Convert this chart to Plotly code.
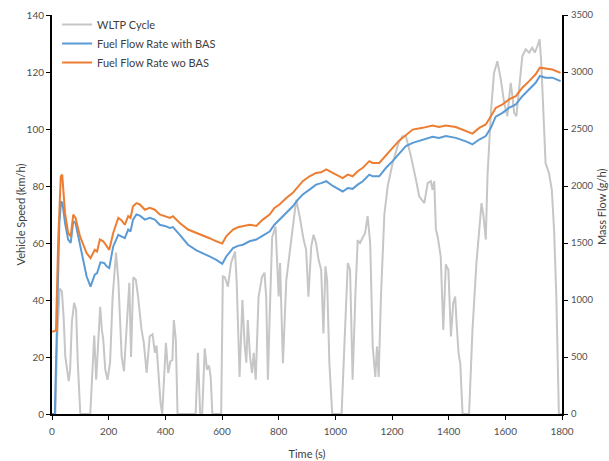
import plotly.graph_objects as go

# WLTP cycle (vehicle speed, km/h)
wltp_time = [0, 12, 18, 27, 35, 41, 47, 53, 59, 64, 70, 78, 85, 91, 100, 135, 149, 156, 164, 170,
             176, 181, 188, 196, 205, 214, 226, 234, 246, 254, 263, 273, 279, 287, 296, 304, 316, 324,
             334, 345, 355, 363, 369, 375, 383, 389, 398, 402, 410, 418, 425, 430, 437, 443, 507, 515,
             523, 530, 539, 547, 554, 560, 566, 597, 603, 610, 621, 632, 646, 652, 662, 672, 680, 686,
             691, 699, 706, 712, 719, 729, 741, 750, 756, 762, 769, 777, 789, 800, 805, 815, 827, 838,
             853, 862, 874, 888, 897, 905, 915, 923, 932, 941, 950, 958, 965, 971, 979, 989, 1022, 1034,
             1044, 1052, 1061, 1071, 1079, 1087, 1097, 1105, 1114, 1123, 1132, 1141, 1147, 1153, 1161,
             1173, 1185, 1202, 1223, 1237, 1249, 1267, 1285, 1296, 1314, 1326, 1337, 1343, 1349, 1355,
             1361, 1372, 1381, 1390, 1399, 1408, 1416, 1423, 1428, 1435, 1441, 1449, 1472, 1484, 1498,
             1508, 1516, 1523, 1531, 1537, 1549, 1560, 1572, 1584, 1596, 1607, 1619, 1625, 1631, 1639,
             1648, 1660, 1672, 1684, 1695, 1704, 1713, 1721, 1727, 1734, 1742, 1754, 1764, 1772, 1780,
             1789, 1800]
wltp_speed = [0, 0, 26, 44, 43, 34, 20, 15.6, 11.5, 15.6, 32, 39, 36.7, 18, 0, 0, 27.5, 12, 29.6, 37.6,
              29.6, 26, 15.6, 12, 18, 41, 56.6, 47, 20, 15, 29.6, 46, 20, 48, 47, 41, 29.6, 25,
              14.4, 27.3, 28, 21.5, 24, 15.6, 4, 0, 15.6, 25, 14.4, 18.5, 19, 33, 26, 0, 0, 21.5,
              0, 0, 23, 15.6, 17, 13, 0, 0, 48.3, 48, 44.7, 53, 57, 46, 13, 40, 24, 18,
              33, 20, 14.4, 21.5, 12, 41, 48, 49.6, 41, 12, 36.7, 62, 65.8, 41.2, 53, 17.8, 47, 55.3,
              67, 75.2, 69.4, 61.2, 57.6, 41.2, 58.8, 62.9, 60, 54, 50.6, 28.3, 51.8, 47, 17.8, 0, 0, 29.5,
              53, 50.6, 12, 42.4, 61, 60, 62.3, 63.5, 69.4, 60, 23.7, 13, 23.7, 13, 41.2,
              70, 80, 88, 95, 97.5, 97.5, 90.4, 82, 76.4, 74, 81, 81.7, 78.7, 81.7, 64.7,
              62.3, 55.3, 29.5, 52.5, 50.6, 27.2, 38.9, 41.2, 31.9, 21.3, 17.8, 0, 0, 29.5, 53,
              63.5, 74, 69.4, 61.2, 83.4, 105.7, 119.7, 123.8, 117.4, 109.2, 104.5, 116.2, 111.5, 105.7, 104.5,
              113.9, 125.6, 128, 126.8, 128.5, 126.8, 129, 131.5, 123, 105.7, 88, 84.6, 78.7, 64.7, 41.2,
              0, 0]

# Fuel flow rate without BAS (g/h)
wo_time = [0, 14, 22, 31, 36, 46, 57, 66, 75, 83, 99, 122, 136, 151, 159, 169, 181, 193, 202, 216,
           234, 245, 257, 269, 277, 286, 298, 310, 328, 345, 363, 380, 398, 416, 427, 451, 480, 510,
           533, 556, 580, 601, 615, 639, 656, 674, 697, 721, 744, 768, 785, 803, 827, 850, 868, 885,
           909, 932, 950, 968, 991, 1026, 1044, 1061, 1079, 1097, 1120, 1132, 1155, 1179, 1202, 1226,
           1249, 1273, 1308, 1343, 1366, 1390, 1425, 1461, 1484, 1508, 1531, 1549, 1566, 1590, 1613,
           1637, 1660, 1684, 1707, 1722, 1742, 1766, 1795]
wo_flow = [722, 732, 1530, 2085, 2100, 1762, 1588, 1558, 1750, 1720, 1558, 1412, 1368, 1440, 1425, 1530,
           1515, 1470, 1440, 1588, 1720, 1700, 1660, 1735, 1720, 1822, 1850, 1838, 1792, 1808, 1792, 1750,
           1735, 1720, 1735, 1675, 1618, 1588, 1572, 1542, 1515, 1495, 1558, 1618, 1638, 1645, 1660, 1650,
           1705, 1750, 1808, 1838, 1895, 1940, 1998, 2042, 2085, 2115, 2120, 2145, 2115, 2070, 2100, 2085,
           2130, 2160, 2218, 2202, 2202, 2275, 2335, 2400, 2450, 2495, 2510, 2530, 2518, 2530, 2518, 2480,
           2460, 2510, 2540, 2612, 2685, 2715, 2760, 2788, 2862, 2920, 2980, 3038, 3028, 3022, 2992]

# Fuel flow rate with BAS (g/h)
with_time = [0, 10, 19, 26, 32, 37, 46, 57, 66, 75, 83, 99, 122, 136, 151, 159, 171, 184, 193, 202,
             216, 234, 245, 257, 269, 277, 286, 298, 310, 328, 345, 363, 380, 398, 416, 427, 451, 480,
             510, 533, 556, 580, 601, 615, 639, 656, 674, 697, 721, 744, 768, 785, 803, 827, 850, 868,
             885, 909, 932, 950, 968, 991, 1026, 1044, 1061, 1079, 1097, 1120, 1132, 1155, 1179, 1202,
             1226, 1249, 1273, 1308, 1343, 1366, 1390, 1425, 1461, 1484, 1508, 1531, 1549, 1566, 1590,
             1613, 1637, 1660, 1684, 1707, 1722, 1742, 1766, 1795]
with_flow = [0, 0, 942, 1675, 1865, 1850, 1675, 1530, 1500, 1690, 1675, 1470, 1208, 1118, 1222, 1235,
             1330, 1325, 1295, 1280, 1470, 1572, 1558, 1542, 1618, 1600, 1705, 1750, 1740, 1705, 1720,
             1705, 1660, 1650, 1632, 1640, 1572, 1485, 1435, 1412, 1382, 1352, 1318, 1382, 1455, 1475,
             1485, 1515, 1530, 1565, 1600, 1660, 1705, 1762, 1822, 1880, 1925, 1968, 2012, 2025, 2042,
             2000, 1952, 1982, 1975, 2012, 2042, 2100, 2085, 2085, 2160, 2218, 2288, 2350, 2378, 2408,
             2432, 2422, 2438, 2422, 2392, 2365, 2408, 2438, 2510, 2608, 2642, 2685, 2715, 2788, 2848,
             2905, 2965, 2950, 2950, 2920]

x_ticks = [0, 200, 400, 600, 800, 1000, 1200, 1400, 1600, 1800]
left_ticks = [0, 20, 40, 60, 80, 100, 120, 140]
right_ticks = [0, 500, 1000, 1500, 2000, 2500, 3000, 3500]

FONT = "Lato, 'Open Sans', sans-serif"
TITLE_COLOR = "#404040"

fig = go.Figure()
fig.add_trace(go.Scatter(x=wltp_time, y=wltp_speed, mode="lines", name="WLTP Cycle",
                         line=dict(color="#C6C6C6", width=2), yaxis="y"))
fig.add_trace(go.Scatter(x=with_time, y=with_flow, mode="lines", name="Fuel Flow Rate with BAS",
                         line=dict(color="#5B9BD5", width=2), yaxis="y2"))
fig.add_trace(go.Scatter(x=wo_time, y=wo_flow, mode="lines", name="Fuel Flow Rate wo BAS",
                         line=dict(color="#ED7D31", width=2), yaxis="y2"))

axis_common = dict(showline=True, linecolor="black", linewidth=2, ticks="outside", ticklen=4,
                   tickcolor="black", tickwidth=1, showgrid=False, zeroline=False, automargin=False)

fig.update_layout(
    width=609, height=461,
    margin=dict(l=52, r=47, t=15, b=47, autoexpand=False),
    paper_bgcolor="white", plot_bgcolor="white",
    font=dict(family=FONT, size=10, color="#505050"),
    showlegend=True,
    legend=dict(x=0.01, y=1.0125, xanchor="left", yanchor="top", bgcolor="rgba(0,0,0,0)",
                font=dict(size=11, color=TITLE_COLOR), itemwidth=30, tracegroupgap=0),
    xaxis=dict(range=[0, 1800], tickvals=x_ticks, ticklabelstandoff=3,
               title=dict(text="Time (s)", font=dict(size=11, color=TITLE_COLOR), standoff=14),
               **axis_common),
    yaxis=dict(range=[0, 140], tickvals=left_ticks, **axis_common),
    yaxis2=dict(range=[0, 3500], tickvals=right_ticks, overlaying="y", side="right",
                ticklabelstandoff=1, tickfont=dict(size=9.5), **axis_common),
    annotations=[
        dict(text="Vehicle Speed (km/h)", textangle=-90, xref="paper", yref="paper",
             x=-0.061, y=0.5, xanchor="center", yanchor="middle", showarrow=False,
             font=dict(size=11, color=TITLE_COLOR)),
        dict(text="Mass Flow (g/h)", textangle=-90, xref="paper", yref="paper",
             x=1.0775, y=0.52, xanchor="center", yanchor="middle", showarrow=False,
             font=dict(size=11, color=TITLE_COLOR)),
    ],
)

fig.write_html("out.html")
